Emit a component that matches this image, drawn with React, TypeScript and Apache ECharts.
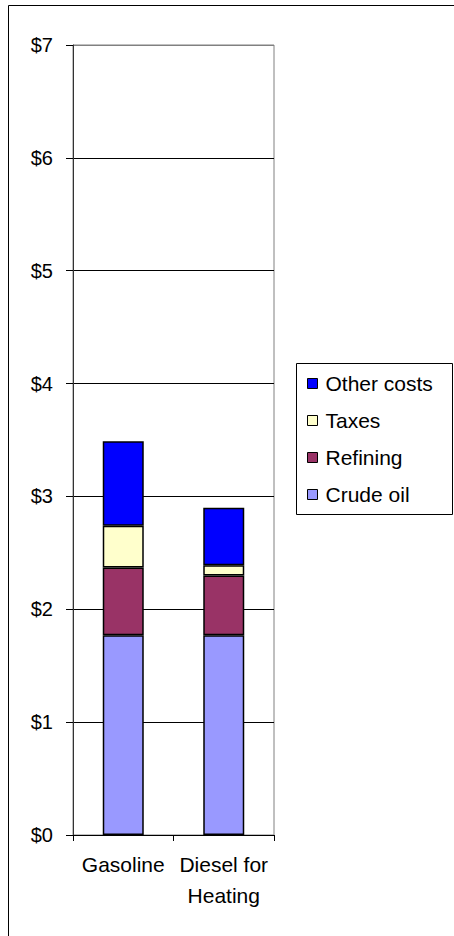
import React, { useEffect, useRef } from "react";
import * as echarts from "echarts";

const categories = ["Gasoline", "Diesel for\nHeating"];
const crudeOil = [1.77, 1.77];
const refining = [0.6, 0.53];
const taxes = [0.37, 0.09];
const otherCosts = [0.75, 0.51];
const legendOrder = ["Other costs", "Taxes", "Refining", "Crude oil"];

const FONT = "'Liberation Sans', Arial, sans-serif";

export default function App() {
  const ref = useRef<HTMLDivElement>(null);
  useEffect(() => {
    if (!ref.current) return;
    const chart = echarts.init(ref.current, null, { renderer: "svg" });
    const barStyle = (color: string) => ({
      color,
      borderColor: "#000",
      borderWidth: 1.5,
    });
    const mk = (name: string, data: number[], color: string) => ({
      name,
      type: "bar",
      stack: "total",
      data,
      barWidth: 41,
      itemStyle: barStyle(color),
      emphasis: { disabled: true },
    });
    chart.setOption({
      animation: false,
      textStyle: { fontFamily: FONT },
      graphic: [
        {
          type: "rect",
          shape: { x: 8.5, y: 5.5, width: 500, height: 1000 },
          style: { fill: "none", stroke: "#000", lineWidth: 1 },
          silent: true,
        },
        {
          type: "rect",
          shape: { x: 296.5, y: 363.5, width: 156, height: 151 },
          style: { fill: "#fff", stroke: "#000", lineWidth: 1 },
          silent: true,
          z: 0,
        },
      ],
      grid: {
        left: 73,
        right: 180,
        top: 45,
        bottom: 101,
        show: true,
        borderColor: "#808080",
        borderWidth: 1,
        containLabel: false,
      },
      legend: {
        orient: "vertical",
        left: 302,
        top: 368,
        data: legendOrder,
        icon: "rect",
        itemWidth: 10,
        itemHeight: 10,
        itemGap: 16,
        itemStyle: { borderColor: "#000", borderWidth: 1 },
        textStyle: { fontSize: 21, color: "#000", fontFamily: FONT, padding: [0, 0, 0, 3] },
        selectedMode: false,
        z: 5,
      },
      xAxis: {
        type: "category",
        data: categories,
        axisLine: { show: true, lineStyle: { color: "#000", width: 1 } },
        axisTick: { show: true, length: 6, alignWithLabel: false, lineStyle: { color: "#000" } },
        axisLabel: {
          fontSize: 21,
          color: "#000",
          fontFamily: FONT,
          margin: 14,
          lineHeight: 31,
          interval: 0,
        },
      },
      yAxis: {
        type: "value",
        min: 0,
        max: 7,
        interval: 1,
        axisLine: { show: true, lineStyle: { color: "#333", width: 1 } },
        axisTick: { show: true, length: 7, lineStyle: { color: "#000" } },
        axisLabel: {
          fontSize: 20,
          color: "#000",
          fontFamily: FONT,
          margin: 20,
          formatter: (v: number) => "$" + v,
        },
        splitLine: {
          show: true,
          lineStyle: {
            color: ["#000", "#000", "#000", "#000", "#000", "#000", "#000", "#808080"],
            width: 1,
          },
        },
      },
      series: [
        mk("Crude oil", crudeOil, "#9999FF"),
        mk("Refining", refining, "#993366"),
        mk("Taxes", taxes, "#FFFFCC"),
        mk("Other costs", otherCosts, "#0000FF"),
      ],
    });
    return () => chart.dispose();
  }, []);
  return (
    <div
      ref={ref}
      style={{ position: "fixed", left: 0, top: 0, width: 454, height: 936, background: "#fff" }}
    />
  );
}
